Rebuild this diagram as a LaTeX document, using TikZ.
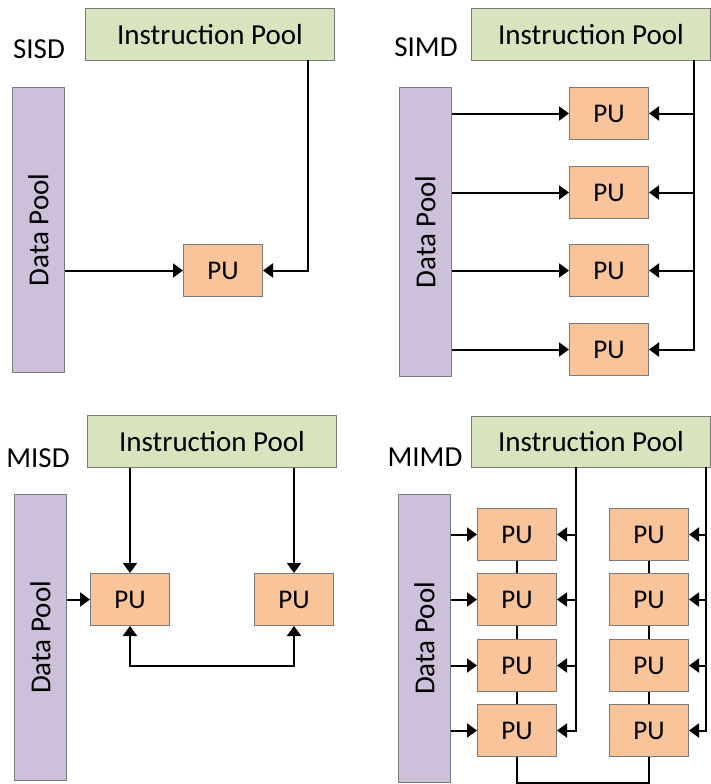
\documentclass[tikz,border=0pt]{standalone}
\usepackage{fontspec}
\setmainfont{Carlito}
\usetikzlibrary{arrows.meta}
\definecolor{instrgreen}{HTML}{D7E4BD}
\definecolor{datapurple}{HTML}{CCC0DA}
\definecolor{puorange}{HTML}{F9C49A}
\definecolor{boxline}{HTML}{7A7A7A}
\tikzset{
  box/.style={draw=boxline, line width=1pt, inner sep=0pt, anchor=north west},
  ipool/.style={box, fill=instrgreen, minimum width=249pt, minimum height=52pt,
    font=\fontsize{29}{30}\selectfont},
  dpool/.style={box, fill=datapurple, minimum width=52pt},
  dtext/.style={rotate=90, font=\fontsize{29}{30}\selectfont},
  pu/.style={box, fill=puorange, minimum width=79pt, minimum height=52pt,
    font=\fontsize{27}{28}\selectfont},
  tag/.style={font=\fontsize{29}{30}\selectfont},
  wire/.style={line width=2pt, line join=miter},
  tip/.tip={Triangle[length=10pt,width=14pt]},
  arr/.style={wire, -tip},
  darr/.style={wire, tip-tip},
}
\begin{document}
\begin{tikzpicture}[x=1pt, y=-1pt]
\useasboundingbox (0,0) rectangle (711,784);

% ---------- SISD ----------
\node[tag] (t1) at (39,49) {SISD};
\node[ipool] (ip1) at (85,8) {Instruction Pool};
\node[dpool, minimum height=285pt] (dp1) at (12,87) {};
\node[dtext] (dl1) at (dp1.center) {Data Pool};
\node[pu] (pu1) at (183,244) {PU};
\coordinate (s1) at (308,60);
\draw[arr] (dp1.east |- pu1.west) -- (pu1.west);
\draw[arr] (s1) |- (pu1.east);

% ---------- SIMD ----------
\node[tag] (t2) at (426,47) {SIMD};
\node[ipool, minimum width=239pt] (ip2) at (471,8) {Instruction Pool};
\node[dpool, minimum height=289pt] (dp2) at (399,87) {};
\node[dtext] (dl2) at (dp2.center) {Data Pool};
\node[pu] (pu21) at (569,87) {PU};
\node[pu] (pu22) at (569,166) {PU};
\node[pu] (pu23) at (569,244) {PU};
\node[pu] (pu24) at (569,323) {PU};
\coordinate (s2) at (694,60);
\draw[arr] (s2) |- (pu24.east);
\foreach \p in {pu21,pu22,pu23}
  \draw[arr] (s2 |- \p.east) -- (\p.east);
\foreach \p in {pu21,pu22,pu23,pu24}
  \draw[arr] (dp2.east |- \p.west) -- (\p.west);

% ---------- MISD ----------
\node[tag] (t3) at (38,458) {MISD};
\node[ipool] (ip3) at (87,415) {Instruction Pool};
\node[dpool, minimum height=286pt] (dp3) at (14,494) {};
\node[dtext] (dl3) at (dp3.center) {Data Pool};
\node[pu] (pu31) at (90,573) {PU};
\node[pu] (pu32) at (254,573) {PU};
\draw[arr] (ip3.south -| pu31.north) -- (pu31.north);
\draw[arr] (ip3.south -| pu32.north) -- (pu32.north);
\draw[arr] (dp3.east |- pu31.west) -- (pu31.west);
\draw[darr] (pu31.south) -- ++(0,40) -| (pu32.south);

% ---------- MIMD ----------
\node[tag] (t4) at (425,457) {MIMD};
\node[ipool, minimum width=239pt, minimum height=51pt] (ip4) at (471,416) {Instruction Pool};
\node[dpool, minimum height=288pt] (dp4) at (398,494) {};
\node[dtext] (dl4) at (dp4.center) {Data Pool};
\foreach \r/\y in {1/508,2/573,3/639,4/704}{
  \node[pu] (pua\r) at (477,\y) {PU};
  \node[pu] (pub\r) at (609,\y) {PU};
}
\coordinate (s4a) at (576,467);
\coordinate (s4b) at (706,467);
\draw[arr] (s4a) |- (pua4.east);
\draw[arr] (s4b) |- (pub4.east);
\foreach \r in {1,2,3}{
  \draw[arr] (s4a |- pua\r.east) -- (pua\r.east);
  \draw[arr] (s4b |- pub\r.east) -- (pub\r.east);
}
\foreach \r in {1,2,3,4}
  \draw[arr] (dp4.east |- pua\r.west) -- (pua\r.west);
\foreach \r/\s in {1/2,2/3,3/4}{
  \draw[wire] (pua\r.south) -- (pua\s.north);
  \draw[wire] (pub\r.south) -- (pub\s.north);
}
\draw[wire] (pua4.south) -- ++(0,26) -| (pub4.south);
\end{tikzpicture}
\end{document}
